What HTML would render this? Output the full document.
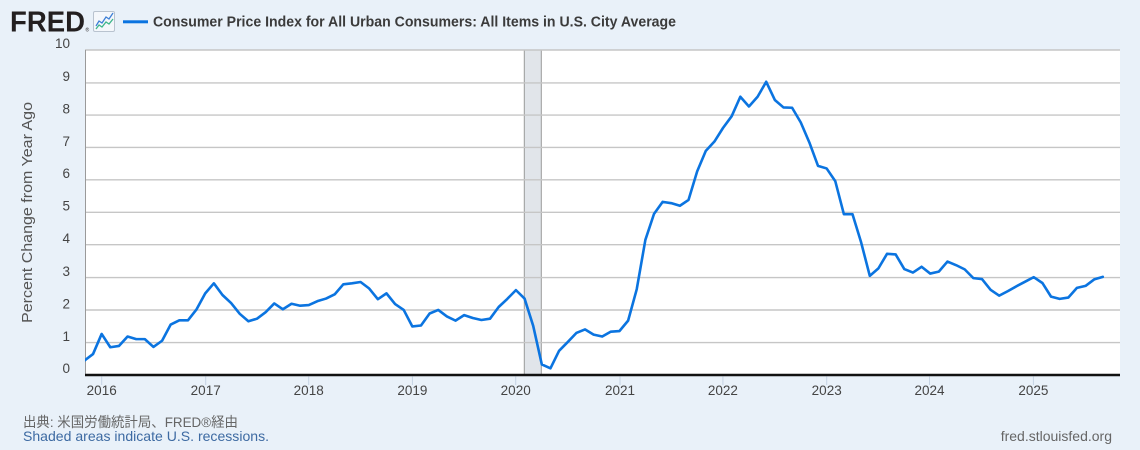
<!DOCTYPE html>
<html>
<head>
<meta charset="utf-8">
<style>
  html, body { margin:0; padding:0; background:#e9f1f9; }
  body { width:1140px; height:450px; overflow:hidden; }
  svg { display:block; }
  text { font-family: "Liberation Sans", "Noto Sans CJK JP", sans-serif; }
</style>
</head>
<body>
<svg width="1140" height="450" viewBox="0 0 1140 450" xmlns="http://www.w3.org/2000/svg">
  <defs>
    <clipPath id="plot"><rect x="85" y="49" width="1035" height="327"/></clipPath>
  </defs>
  <rect x="0" y="0" width="1140" height="450" fill="#e9f1f9"/>

  <!-- Header -->
  <text x="10" y="31.5" font-size="29" font-weight="bold" fill="#231f20" textLength="75" lengthAdjust="spacingAndGlyphs">FRED</text>
  <text x="85.5" y="31.5" font-size="5" fill="#231f20">®</text>
  <rect x="93.5" y="11.5" width="21" height="20" rx="1.5" fill="#f4f7fb" stroke="#b9c3cf" stroke-width="1"/>
  <polyline points="96,26 99,21 102,23 106,17 109,19 113,13" fill="none" stroke="#3d7fd6" stroke-width="1.3"/>
  <polyline points="96,29 99,25 102,27 106,22 109,24 113,19" fill="none" stroke="#3db58a" stroke-width="1.3"/>
  <rect x="123" y="20.3" width="25" height="3" fill="#0b74e0"/>
  <text x="153" y="26.5" font-size="14.5" font-weight="bold" fill="#3b3b3b" textLength="523" lengthAdjust="spacingAndGlyphs">Consumer Price Index for All Urban Consumers: All Items in U.S. City Average</text>

  <!-- Plot background -->
  <rect x="85" y="50" width="1035" height="325" fill="#ffffff"/>

  <!-- Recession shading -->
  <rect x="524.3" y="50" width="17" height="325" fill="#e1e5ea"/>
  <line x1="524.3" y1="50" x2="524.3" y2="375" stroke="#9a9a9a" stroke-width="1"/>
  <line x1="541.3" y1="50" x2="541.3" y2="375" stroke="#9a9a9a" stroke-width="1"/>

  <!-- Gridlines -->
  <g stroke="#c6c6c6" stroke-width="1.4">
    <line x1="85" y1="50" x2="1120" y2="50"/>
    <line x1="85" y1="82.9" x2="1120" y2="82.9"/>
    <line x1="85" y1="115.1" x2="1120" y2="115.1"/>
    <line x1="85" y1="147.4" x2="1120" y2="147.4"/>
    <line x1="85" y1="179.8" x2="1120" y2="179.8"/>
    <line x1="85" y1="212.3" x2="1120" y2="212.3"/>
    <line x1="85" y1="244.7" x2="1120" y2="244.7"/>
    <line x1="85" y1="277.6" x2="1120" y2="277.6"/>
    <line x1="85" y1="310" x2="1120" y2="310"/>
    <line x1="85" y1="342.6" x2="1120" y2="342.6"/>
  </g>
  <line x1="85.5" y1="50" x2="85.5" y2="375" stroke="#9a9a9a" stroke-width="1"/>

  <!-- Series -->
  <g clip-path="url(#plot)">
    <path transform="translate(84.4,374.5) scale(8.6305,-32.45)" vector-effect="non-scaling-stroke"
      fill="none" stroke="#0b74e0" stroke-width="2.6" stroke-linejoin="round" stroke-linecap="round"
      d="M0 0.43 L1 0.63 L2 1.25 L3 0.84 L4 0.88 L5 1.17 L6 1.09 L7 1.09 L8 0.85 L9 1.04 L10 1.54 L11 1.67 L12 1.67 L13 2.01
         L14 2.50 L15 2.81 L16 2.45 L17 2.20 L18 1.87 L19 1.64 L20 1.72 L21 1.92 L22 2.19 L23 2.01 L24 2.18 L25 2.12
         L26 2.14 L27 2.26 L28 2.34 L29 2.47 L30 2.78 L31 2.81 L32 2.85 L33 2.65 L34 2.32 L35 2.50 L36 2.17 L37 1.99
         L38 1.48 L39 1.51 L40 1.88 L41 1.99 L42 1.79 L43 1.66 L44 1.83 L45 1.74 L46 1.68 L47 1.72 L48 2.08 L49 2.33
         L50 2.60 L51 2.34 L52 1.50 L53 0.31 L54 0.19 L55 0.73 L56 1.00 L57 1.28 L58 1.39 L59 1.23 L60 1.17 L61 1.32
         L62 1.34 L63 1.66 L64 2.63 L65 4.15 L66 4.95 L67 5.32 L68 5.28 L69 5.20 L70 5.38 L71 6.26 L72 6.89 L73 7.18
         L74 7.60 L75 7.96 L76 8.56 L77 8.26 L78 8.56 L79 9.02 L80 8.46 L81 8.23 L82 8.22 L83 7.77 L84 7.15 L85 6.43
         L86 6.35 L87 5.96 L88 4.94 L89 4.94 L90 4.07 L91 3.04 L92 3.27 L93 3.72 L94 3.70 L95 3.25 L96 3.14 L97 3.32
         L98 3.11 L99 3.17 L100 3.48 L101 3.37 L102 3.24 L103 2.97 L104 2.94 L105 2.61 L106 2.43 L107 2.57 L108 2.72 L109 2.86
         L110 3.00 L111 2.82 L112 2.40 L113 2.33 L114 2.37 L115 2.67 L116 2.73 L117 2.93 L118 3.01"/>
  </g>

  <!-- X axis line -->
  <line x1="85" y1="375" x2="1120" y2="375" stroke="#111" stroke-width="2.4"/>

  <!-- X ticks -->
  <g stroke="#c5d3e3" stroke-width="1">
    <line x1="101.7" y1="376.5" x2="101.7" y2="385"/>
    <line x1="205.7" y1="376.5" x2="205.7" y2="385"/>
    <line x1="308.7" y1="376.5" x2="308.7" y2="385"/>
    <line x1="412.4" y1="376.5" x2="412.4" y2="385"/>
    <line x1="515.7" y1="376.5" x2="515.7" y2="385"/>
    <line x1="620" y1="376.5" x2="620" y2="385"/>
    <line x1="722.9" y1="376.5" x2="722.9" y2="385"/>
    <line x1="826.7" y1="376.5" x2="826.7" y2="385"/>
    <line x1="929.5" y1="376.5" x2="929.5" y2="385"/>
    <line x1="1033.4" y1="376.5" x2="1033.4" y2="385"/>
  </g>
  <g font-size="13.5" fill="#444" text-anchor="middle">
    <text x="101.7" y="395">2016</text>
    <text x="205.7" y="395">2017</text>
    <text x="308.7" y="395">2018</text>
    <text x="412.4" y="395">2019</text>
    <text x="515.7" y="395">2020</text>
    <text x="620" y="395">2021</text>
    <text x="722.9" y="395">2022</text>
    <text x="826.7" y="395">2023</text>
    <text x="929.5" y="395">2024</text>
    <text x="1033.4" y="395">2025</text>
  </g>

  <!-- Y tick labels -->
  <g font-size="13.5" fill="#444" text-anchor="end">
    <text x="70" y="48">10</text>
    <text x="70" y="81">9</text>
    <text x="70" y="113.5">8</text>
    <text x="70" y="145.8">7</text>
    <text x="70" y="178.2">6</text>
    <text x="70" y="210.7">5</text>
    <text x="70" y="243.1">4</text>
    <text x="70" y="276">3</text>
    <text x="70" y="308.4">2</text>
    <text x="70" y="341">1</text>
    <text x="70" y="373">0</text>
  </g>

  <!-- Y axis title -->
  <text transform="translate(32,212.5) rotate(-90)" font-size="15" fill="#555" text-anchor="middle" textLength="221" lengthAdjust="spacingAndGlyphs">Percent Change from Year Ago</text>

  <!-- Footer -->
  <text x="23" y="427" font-size="14" fill="#666" textLength="215" lengthAdjust="spacingAndGlyphs">出典: 米国労働統計局、FRED®経由</text>
  <text x="23" y="441" font-size="14" fill="#3d6aa2" textLength="246" lengthAdjust="spacingAndGlyphs">Shaded areas indicate U.S. recessions.</text>
  <text x="1112" y="441" font-size="14" fill="#666" text-anchor="end">fred.stlouisfed.org</text>
</svg>
</body>
</html>
